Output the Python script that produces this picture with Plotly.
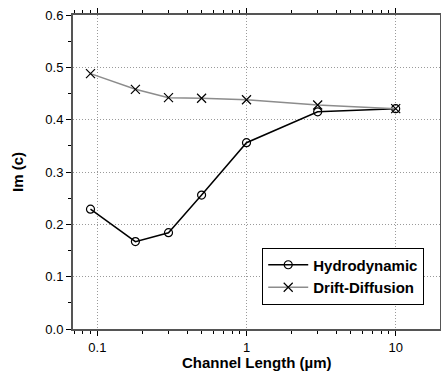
import plotly.graph_objects as go

# Channel length (um) and Im(c) for the two transport models
channel_length = [0.09, 0.18, 0.3, 0.5, 1, 3, 10]
hydrodynamic = [0.229, 0.167, 0.184, 0.256, 0.356, 0.415, 0.421]
drift_diffusion = [0.488, 0.458, 0.442, 0.441, 0.438, 0.428, 0.421]

x_ticks = [0.1, 1, 10]
x_tick_text = ["0.1", "1", "10"]
x_minor = [0.07, 0.08, 0.09, 0.2, 0.3, 0.4, 0.5, 0.6, 0.7, 0.8, 0.9,
           2, 3, 4, 5, 6, 7, 8, 9]

font_family = "Liberation Sans, Arial, sans-serif"
axis_color = "#555555"
grid_color = "#9a9a9a"

fig = go.Figure()
fig.add_trace(go.Scatter(
    x=channel_length, y=hydrodynamic, name="<b>Hydrodynamic</b>",
    mode="lines+markers",
    line=dict(color="black", width=1.5),
    marker=dict(symbol="circle-open", size=8, color="black",
                line=dict(width=1.2)),
))
fig.add_trace(go.Scatter(
    x=channel_length, y=drift_diffusion, name="<b>Drift-Diffusion</b>",
    mode="lines+markers",
    line=dict(color="#8c8c8c", width=1.5),
    marker=dict(symbol="x-thin-open", size=9, color="black",
                line=dict(width=1.2, color="black")),
))

fig.update_layout(
    width=441, height=373,
    margin=dict(l=73, r=1, t=15, b=44, autoexpand=False),
    paper_bgcolor="white", plot_bgcolor="white",
    font=dict(family=font_family, size=12, color="black"),
    showlegend=True,
    legend=dict(
        x=0.957, y=0.078, xanchor="right", yanchor="bottom",
        bordercolor="black", borderwidth=1, bgcolor="white",
        font=dict(size=15, color="black"),
        tracegroupgap=0, itemwidth=40,
    ),
    annotations=[dict(
        text="<b>Channel Length (µm)</b>", xref="paper", yref="paper",
        x=0.5, y=-0.072, xanchor="center", yanchor="top",
        showarrow=False, font=dict(size=15),
    )],
)

fig.update_xaxes(
    type="log", range=[-1.163, 1.297], automargin=False,
    tickvals=x_ticks, ticktext=x_tick_text,
    ticks="outside", ticklen=5, tickwidth=1, tickcolor="black",
    showline=True, linecolor=axis_color, linewidth=2, mirror="ticks",
    showgrid=True, gridcolor=grid_color, griddash="1px,2px", gridwidth=1,
    minor=dict(ticks="outside", ticklen=3, tickcolor="black",
               tickvals=x_minor, showgrid=False),
    zeroline=False,
    tickfont=dict(size=13),
)
fig.update_yaxes(
    range=[0, 0.6], dtick=0.1, tickformat=".1f", automargin=False,
    ticks="outside", ticklen=5, tickwidth=1, tickcolor="black",
    showline=True, linecolor=axis_color, linewidth=2, mirror="ticks",
    showgrid=True, gridcolor=grid_color, griddash="1px,2px", gridwidth=1,
    minor=dict(ticks="outside", ticklen=3, tickcolor="black",
               dtick=0.05, showgrid=False),
    zeroline=False,
    title=dict(text="<b>Im (c)</b>", font=dict(size=15), standoff=18),
    tickfont=dict(size=13),
)

fig.write_html("out.html")
